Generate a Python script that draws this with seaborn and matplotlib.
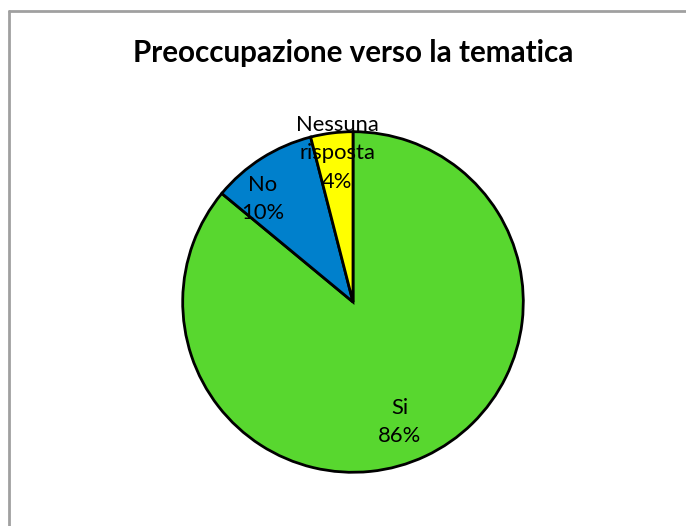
import numpy as np
import matplotlib
matplotlib.use("Agg")
import matplotlib.pyplot as plt
from matplotlib.lines import Line2D
import seaborn as sns

sns.set_theme(style="white")
plt.rcParams["font.family"] = ["Lato", "DejaVu Sans"]

# Survey answers and their shares
categories = ["Si", "No", "Nessuna\nrisposta"]
shares = [86, 10, 4]
colors = ["#58D72F", "#0080CC", "#FFFF00"]
title = "Preoccupazione verso la tematica"

# Label placement per wedge: radial distance and angular nudge (degrees)
label_dist = [0.755, 0.805, 0.877]
label_shift = [-4, 8.8, -1.1]

W, H = 686, 526
fig = plt.figure(figsize=(W / 100, H / 100), dpi=100)
fig.patch.set_facecolor("white")

cx, cy, r = 353, 302, 172
ax = fig.add_axes([(cx - r) / W, (H - cy - r) / H, 2 * r / W, 2 * r / H])

wedges, _ = ax.pie(
    shares,
    colors=colors,
    startangle=90,
    counterclock=False,
    radius=1,
    wedgeprops=dict(edgecolor="black", linewidth=2),
)
ax.set_xlim(-1.01, 1.01)
ax.set_ylim(-1.01, 1.01)
ax.set_aspect("equal")
ax.axis("off")

for w, cat, val, d, sh in zip(wedges, categories, shares, label_dist, label_shift):
    mid = np.deg2rad((w.theta1 + w.theta2) / 2 + sh)
    ax.text(d * np.cos(mid), d * np.sin(mid), f"{cat}\n{val}%",
            ha="center", va="center", fontsize=15.8, color="black",
            linespacing=1.52)

fig.text(cx / W, 1 - 53 / H, title, ha="center", va="center",
         fontsize=21.3, fontweight="bold", color="black")

# Chart-area frame (top and left edges)
fx, fy = 8.5 / W, 1 - 11 / H
fig.add_artist(Line2D([fx, 1], [fy, fy], transform=fig.transFigure,
                      color="#A0A0A0", linewidth=2))
fig.add_artist(Line2D([fx, fx], [0, fy], transform=fig.transFigure,
                      color="#A0A0A0", linewidth=2))

fig.savefig("out.png", dpi=100, facecolor="white")
